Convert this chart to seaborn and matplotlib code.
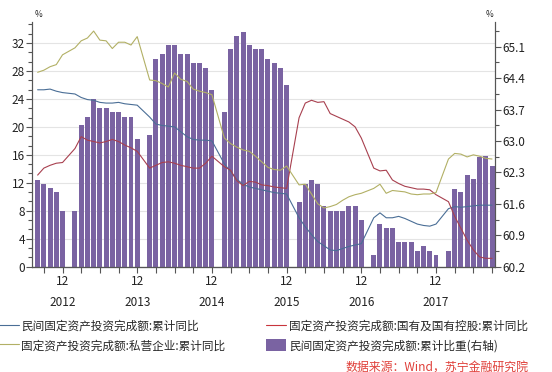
import numpy as np
import pandas as pd
import matplotlib
matplotlib.use("Agg")
import matplotlib.pyplot as plt
import seaborn as sns
from matplotlib.ticker import AutoMinorLocator, FixedLocator
from matplotlib.lines import Line2D
from matplotlib.patches import Patch

# monthly data, Aug 2012 - Sep 2018 (January not published)
private_growth = [
    25.3, 25.3, 25.4, 25.1, 24.9,
    24.7, 24.2, 23.9, 23.8, 23.5, 23.4, 23.4, 23.5, 23.3, 23.2, 23.1,
    21.4, 20.4, 20.2, 20.1, 20.0, 19.3, 18.6, 18.2, 18.1, 18.1, 18.0,
    14.7, 13.6, 12.5, 11.8, 11.4, 11.2, 11.0, 10.8, 10.6, 10.5, 10.4,
    7.0, 5.7, 4.6, 3.6, 3.0, 2.4, 2.3, 2.6, 2.9, 3.1, 3.3,
    7.0, 7.7, 7.0, 7.0, 7.2, 6.9, 6.5, 6.1, 5.9, 5.8, 6.1,
    8.3, 8.6, 8.5, 8.6, 8.7, 8.8, 8.8, 8.8,
]
state_growth = [
    13.1, 14.1, 14.5, 14.8, 14.9,
    16.9, 18.6, 18.1, 17.9, 17.7, 17.9, 18.2, 17.9, 17.4, 17.0, 16.5,
    14.1, 14.5, 14.9, 15.0, 14.8, 14.5, 14.3, 14.1, 14.1, 14.8, 15.8,
    14.3, 13.8, 12.3, 11.6, 12.2, 12.1, 11.7, 11.6, 11.4, 11.3, 11.2,
    21.3, 23.4, 23.8, 23.5, 23.6, 21.9, 21.5, 21.1, 20.7, 20.0, 18.4,
    14.1, 13.7, 13.8, 12.4, 11.9, 11.5, 11.3, 11.1, 11.1, 11.0, 10.3,
    9.3, 7.2, 5.5, 3.8, 2.4, 1.4, 1.2, 1.2,
]
siying_growth = [
    27.8, 28.1, 28.6, 28.9, 30.3,
    31.3, 32.3, 32.7, 33.7, 32.4, 32.3, 31.2, 32.1, 32.1, 31.7, 32.9,
    26.7, 26.6, 26.2, 25.7, 27.7, 26.8, 26.5, 25.4, 25.1, 24.9, 24.6,
    18.4, 17.6, 17.1, 16.7, 16.5, 15.8, 15.0, 14.2, 13.9, 13.8, 14.4,
    11.7, 11.8, 10.4, 9.0, 8.4, 8.6, 8.9, 9.5, 10.0, 10.3, 10.5,
    11.2, 11.8, 10.5, 10.9, 10.8, 10.7, 10.4, 10.3, 10.4, 10.4, 10.6,
    15.4, 16.2, 16.1, 15.7, 16.0, 15.8, 15.5, 15.4,
]
private_share = [
    62.14, 62.04, 61.96, 61.86, 61.44,
    61.44, 63.35, 63.53, 63.94, 63.74, 63.74, 63.65, 63.65, 63.53, 63.53, 63.05,
    63.13, 64.82, 64.94, 65.13, 65.13, 64.94, 64.94, 64.73, 64.73, 64.62, 64.13,
    63.64, 65.04, 65.34, 65.42, 65.13, 65.04, 65.04, 64.82, 64.74, 64.63, 64.24,
    61.64, 62.04, 62.14, 62.04, 61.55, 61.44, 61.44, 61.44, 61.55, 61.55, 61.25,
    60.46, 61.15, 61.06, 61.06, 60.75, 60.75, 60.75, 60.55, 60.66, 60.55, 60.46,
    60.55, 61.94, 61.86, 62.24, 62.15, 62.64, 62.66, 62.44,
]

label_years = [2012, 2013, 2014, 2015, 2016, 2017]
left_ticks = [0, 4, 8, 12, 16, 20, 24, 28, 32]
right_ticks = [60.2, 60.9, 61.6, 62.3, 63.0, 63.7, 64.4, 65.1]

legend_labels = [
    "民间固定资产投资完成额:累计同比",
    "固定资产投资完成额:私营企业:累计同比",
    "固定资产投资完成额:国有及国有控股:累计同比",
    "民间固定资产投资完成额:累计比重(右轴)",
]

# month index counted from Aug 2012
months = [(y, m) for y in range(2012, 2019) for m in range(1, 13)
          if (2012, 8) <= (y, m) <= (2018, 9) and m != 1]
idx = [(y - 2012) * 12 + m - 8 for y, m in months]

df = pd.DataFrame({
    "idx": idx,
    "private": private_growth,
    "state": state_growth,
    "siying": siying_growth,
    "share": private_share,
})

sns.set_style("white")
plt.rcParams["font.family"] = ["Noto Sans CJK SC", "DejaVu Sans"]

c_blue = "#4a6e96"
c_red = "#a8404f"
c_olive = "#b2b065"
c_bar = "#7a63a2"
c_axis = "#555555"

fig = plt.figure(figsize=(5.52, 3.72), dpi=100)
ax = fig.add_axes([0.058, 0.283, 0.839, 0.658])
ax_r = ax.twinx()
ax_l = ax.twinx()

sns.barplot(data=df, x="idx", y="share", native_scale=True, color=c_bar,
            saturation=1, width=0.8, errorbar=None, ax=ax_r, linewidth=0)
sns.lineplot(data=df, x="idx", y="private", color=c_blue, linewidth=0.8, ax=ax_l)
sns.lineplot(data=df, x="idx", y="state", color=c_red, linewidth=0.8, ax=ax_l)
sns.lineplot(data=df, x="idx", y="siying", color=c_olive, linewidth=0.8, ax=ax_l)

for a in (ax, ax_r, ax_l):
    a.set_xlim(-0.9, 73.5)
    a.set_xlabel("")
    a.set_ylabel("")
    a.spines["top"].set_visible(False)
    for s in ("left", "right", "bottom"):
        a.spines[s].set_color(c_axis)
        a.spines[s].set_linewidth(0.8)

ax.set_ylim(0, 35)
ax_l.set_ylim(0, 35)
ax_r.set_ylim(60.2, 65.65)

ax.yaxis.set_major_locator(FixedLocator(left_ticks))
ax.yaxis.set_minor_locator(AutoMinorLocator(3))
ax.grid(axis="y", color="#e4e4e4", linewidth=0.8)
ax.tick_params(axis="y", which="both", left=True, direction="out", colors=c_axis,
               labelcolor="#222222", labelsize=8.5, pad=1)
ax.tick_params(axis="y", which="major", length=4, width=0.8)
ax.tick_params(axis="y", which="minor", length=3, width=0.8)

ax_r.yaxis.set_major_locator(FixedLocator(right_ticks))
ax_r.yaxis.set_minor_locator(AutoMinorLocator(2))
ax_r.set_yticklabels([f"{v:.1f}" for v in right_ticks])
ax_r.tick_params(axis="y", which="both", right=True, direction="out", colors=c_axis,
                 labelcolor="#222222", labelsize=8.5, pad=1)
ax_r.tick_params(axis="y", which="major", length=4, width=0.8)
ax_r.tick_params(axis="y", which="minor", length=3, width=0.8)

ax_l.yaxis.set_visible(False)
ax_l.spines["right"].set_visible(False)
ax_l.spines["left"].set_visible(False)

dec_pos = [(y - 2012) * 12 + 4 for y in label_years]
ax.xaxis.set_major_locator(FixedLocator(dec_pos))
ax.xaxis.set_minor_locator(FixedLocator(np.arange(1, 74, 3)))
ax.set_xticklabels([f"12\n{y}" for y in label_years], fontsize=8.5, linespacing=1.75)
ax.tick_params(axis="x", which="both", bottom=True, direction="out", length=4,
               width=0.8, colors=c_axis, labelcolor="#222222", pad=2)
for a in (ax_r, ax_l):
    a.tick_params(axis="x", which="both", bottom=False, labelbottom=False)

fig.text(0.062, 0.948, "%", fontsize=6, color="#222222", va="bottom")
fig.text(0.893, 0.948, "%", fontsize=6, color="#222222", va="bottom", ha="right")

handles = [
    Line2D([0], [0], color=c_blue, linewidth=0.8),
    Line2D([0], [0], color=c_olive, linewidth=0.8),
    Line2D([0], [0], color="#c8353c", linewidth=0.8),
    Patch(facecolor=c_bar, edgecolor="none"),
]
fig.legend(handles=handles, labels=legend_labels, ncol=2, loc="center left",
           bbox_to_anchor=(-0.003, 0.097), frameon=False, fontsize=8.4,
           handlelength=1.75, handleheight=1.15, handletextpad=0.2,
           columnspacing=3.5, labelspacing=0.55, borderpad=0, borderaxespad=0)

fig.text(0.957, 0.014, "数据来源：Wind，苏宁金融研究院", color="#e0403a",
         fontsize=8.6, ha="right", va="center", style="italic")

fig.savefig("out.png", dpi=100)
